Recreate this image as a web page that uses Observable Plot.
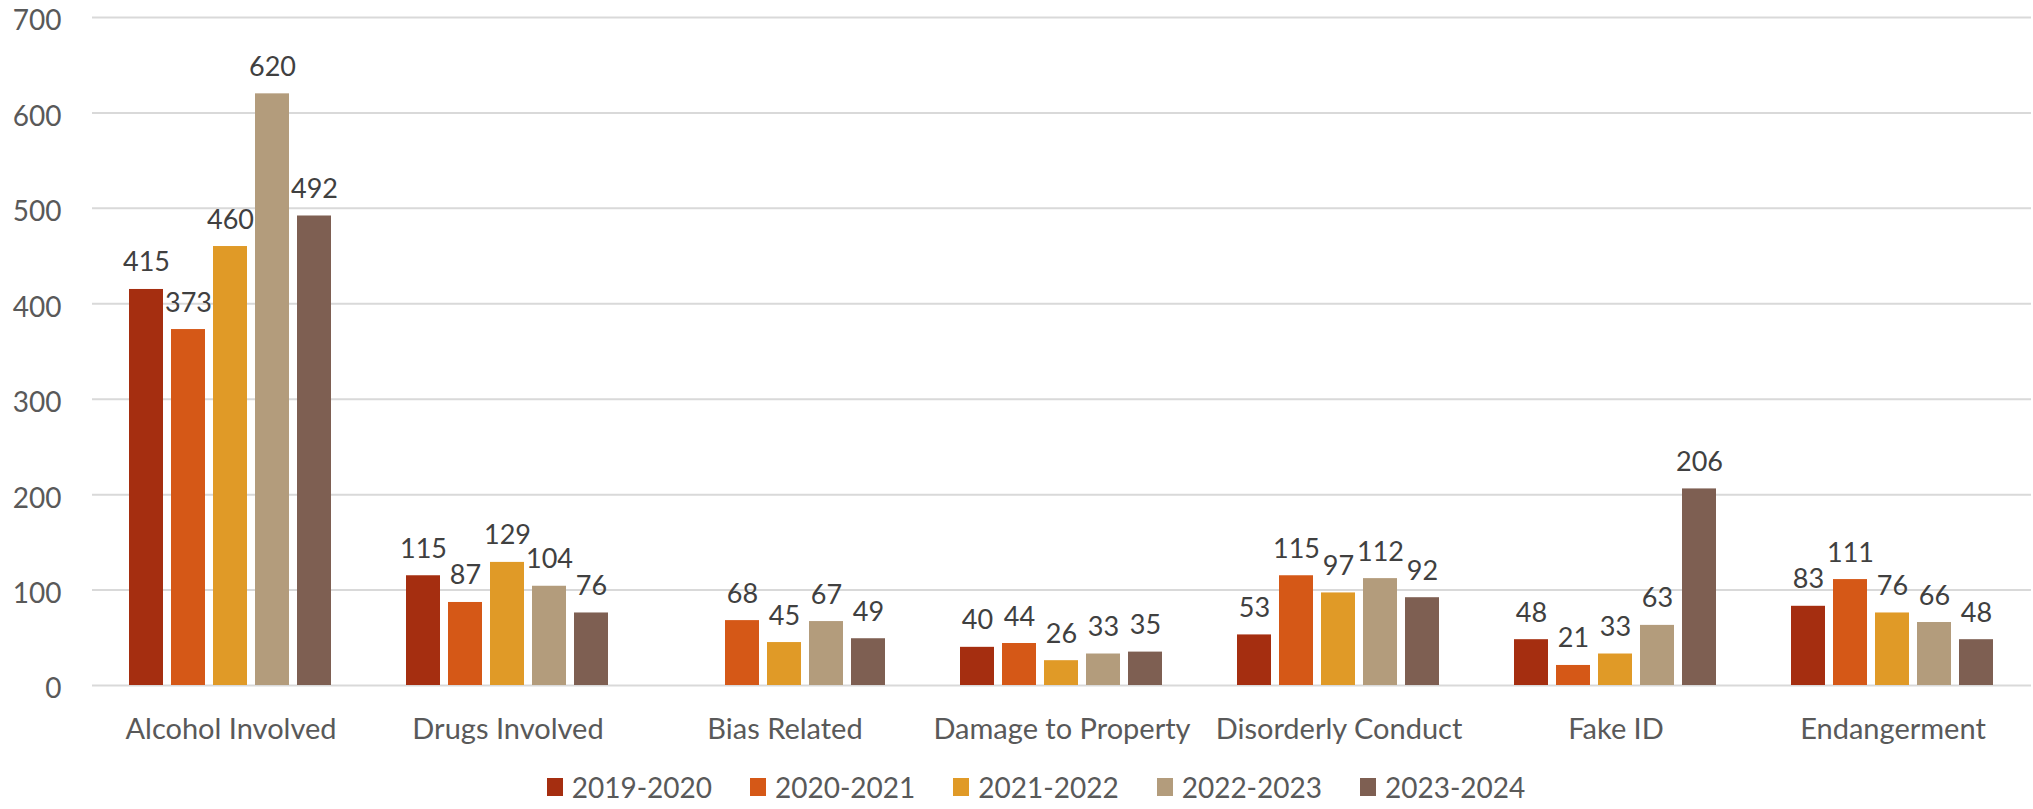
<!DOCTYPE html>
<html>
<head>
<meta charset="utf-8">
<script src="https://cdn.jsdelivr.net/npm/d3@7"></script>
<script src="https://cdn.jsdelivr.net/npm/@observablehq/plot@0.6"></script>
<style>
  html, body { margin: 0; padding: 0; background: #fff; }
  body { width: 2033px; height: 809px; overflow: hidden; font-family: Lato, "Open Sans", sans-serif; }
  #legend { display: flex; justify-content: center; gap: 38px; margin-left: 39px; font-size: 28px; color: #595959; height: 49px; padding-top: 4px; box-sizing: border-box; align-items: center; }
  #legend .item { display: flex; align-items: center; gap: 9px; }
  #legend .sw { width: 16px; height: 18px; display: inline-block; }
</style>
</head>
<body>
<div id="chart"></div>
<div id="legend"></div>
<script>
const categories = ["Alcohol Involved", "Drugs Involved", "Bias Related", "Damage to Property", "Disorderly Conduct", "Fake ID", "Endangerment"];
const years = ["2019-2020", "2020-2021", "2021-2022", "2022-2023", "2023-2024"];
const colors = ["#A52E10", "#D55817", "#E09A27", "#B39C7C", "#7E5F52"];
const v2019 = [415, 115, null, 40, 53, 48, 83];
const v2020 = [373, 87, 68, 44, 115, 21, 111];
const v2021 = [460, 129, 45, 26, 97, 33, 76];
const v2022 = [620, 104, 67, 33, 112, 63, 66];
const v2023 = [492, 76, 49, 35, 92, 206, 48];
const yTicks = [0, 100, 200, 300, 400, 500, 600, 700];

const series = [v2019, v2020, v2021, v2022, v2023];
const data = [];
categories.forEach((c, i) => {
  years.forEach((y, j) => {
    const v = series[j][i];
    if (v != null) data.push({category: c, year: y, value: v});
  });
});

const chart = Plot.plot({
  width: 2033,
  height: 760,
  marginLeft: 92,
  marginRight: 2,
  marginTop: 17,
  marginBottom: 75,
  style: {fontFamily: "Lato, 'Open Sans', sans-serif", fontSize: "28px", color: "#595959", background: "#fff"},
  fx: {domain: categories, paddingInner: 0.266, paddingOuter: 0.133, label: null},
  x: {domain: years, paddingInner: 0.19, paddingOuter: 0, axis: null},
  y: {domain: [0, 700], label: null, grid: false},
  color: {domain: years, range: colors},
  marks: [
    Plot.ruleY(yTicks, {stroke: "#d9d9d9", strokeWidth: 2, strokeOpacity: 1, insetLeft: -37, insetRight: -37}),
    Plot.axisY({ticks: yTicks, tickSize: 0, tickPadding: 68, label: null, dy: 4, fill: "#595959", fontSize: 28}),
    Plot.axisFx({anchor: "bottom", tickSize: 0, tickPadding: 33, label: null, fill: "#595959", fontSize: 29}),
    Plot.barY(data, {fx: "category", x: "year", y: "value", fill: "year"}),
    Plot.text(data, {fx: "category", x: "year", y: "value", text: d => String(d.value), dy: -18, lineAnchor: "bottom", fill: "#404040", fontSize: 27})
  ]
});
document.getElementById("chart").appendChild(chart);

const legend = document.getElementById("legend");
years.forEach((y, j) => {
  const item = document.createElement("div");
  item.className = "item";
  const sw = document.createElement("span");
  sw.className = "sw";
  sw.style.background = colors[j];
  const t = document.createElement("span");
  t.textContent = y;
  item.appendChild(sw);
  item.appendChild(t);
  legend.appendChild(item);
});
</script>
</body>
</html>
